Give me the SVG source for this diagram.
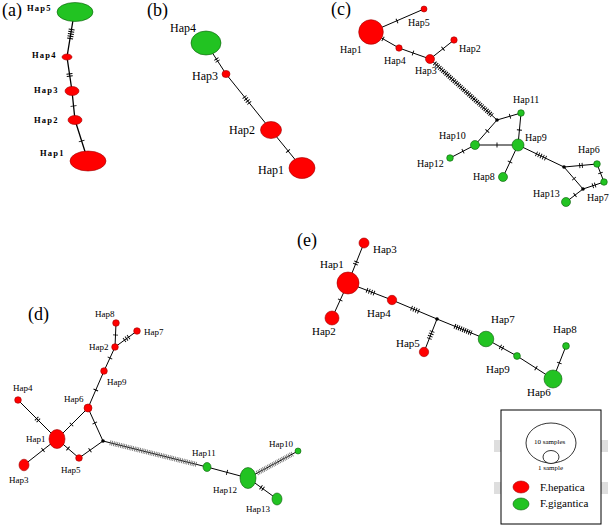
<svg xmlns="http://www.w3.org/2000/svg" width="610" height="526" viewBox="0 0 610 526">
<style>
text{font-family:"Liberation Serif","Times New Roman",serif;fill:#000}
.pl{font-size:18px}
.la{font-size:8.5px;font-weight:bold;letter-spacing:1.2px}
.lb{font-size:12px}
.lc{font-size:10px}
.ld{font-size:9px}
.le{font-size:11px}
.e{stroke:#000;stroke-width:1;fill:none}
.h{stroke:#000;stroke-width:5;stroke-dasharray:0.9 1.6;fill:none}
.ha{stroke:#000;stroke-width:6;stroke-dasharray:0.9 1.4;fill:none}
.hd{stroke:#000;stroke-width:5;stroke-dasharray:1 1.2;fill:none}
.hg{stroke:#666;stroke-width:5;stroke-dasharray:0.8 1;fill:none}
.r{fill:#ff0000;stroke:#a00000;stroke-width:0.6}
.g{fill:#22c322;stroke:#0a5a0a;stroke-width:0.6}
.b{fill:#000}
</style>
<rect width="610" height="526" fill="#fff"/>

<!-- panel labels -->
<text class="pl" x="2" y="16">(a)</text>
<text class="pl" x="147" y="16">(b)</text>
<text class="pl" x="331" y="15">(c)</text>
<text class="pl" x="28" y="320">(d)</text>
<text class="pl" x="297" y="246">(e)</text>

<g id="connectors">
  <!-- (a) -->
  <polyline class="e" style="stroke-width:1.3" points="74,14 67,57 72,91 75,120 88,161"/>
  <line class="ha" x1="71.7" y1="29" x2="70" y2="39"/>
  <line class="ha" x1="69.4" y1="73.4" x2="69.8" y2="76.6"/>
  <line class="ha" x1="73.5" y1="105.55" x2="73.6" y2="106.45"/>
  <line class="ha" x1="81.52" y1="140.57" x2="81.8" y2="141.43"/>
  <!-- (b) -->
  <polyline class="e" points="206,43 226,74 271,130 302,168"/>
  <line class="h" x1="216.13" y1="58.66" x2="217.87" y2="61.34"/>
  <line class="h" x1="244.27" y1="96.72" x2="249.53" y2="103.28"/>
  <line class="h" x1="287.72" y1="150.65" x2="288.28" y2="151.35"/>
  <!-- (c) -->
  <line class="e" x1="371" y1="32" x2="424" y2="9"/>
  <polyline class="e" points="371,32 399,48 430,59 454,40"/>
  <line class="e" x1="430" y1="59" x2="497" y2="120"/>
  <polyline class="e" points="475,145 497,120 521,113 518,145 475,145 450,158"/>
  <line class="e" x1="518" y1="145" x2="503" y2="177"/>
  <line class="e" x1="518" y1="145" x2="564" y2="167"/>
  <polyline class="e" points="566,202 583,189 564,167 597,164 604,182 583,189"/>
  <line class="h" x1="396.59" y1="21.18" x2="397.41" y2="20.82"/>
  <line class="h" x1="382.61" y1="38.68" x2="383.39" y2="39.12"/>
  <line class="h" x1="412.58" y1="52.85" x2="413.42" y2="53.15"/>
  <line class="h" x1="442.65" y1="48.98" x2="443.35" y2="48.42"/>
  <line class="hd" x1="434.5" y1="63.1" x2="492" y2="115.4"/>
  <line class="h" x1="509.57" y1="116.33" x2="510.43" y2="116.07"/>
  <line class="h" x1="519.44" y1="129.55" x2="519.36" y2="130.45"/>
  <line class="h" x1="487.6" y1="130.66" x2="487.0" y2="131.34"/>
  <line class="h" x1="496.55" y1="145" x2="497.45" y2="145"/>
  <line class="h" x1="463.4" y1="150.99" x2="462.6" y2="151.41"/>
  <line class="h" x1="510.19" y1="161.59" x2="509.81" y2="162.41"/>
  <line class="h" x1="536.08" y1="153.65" x2="545.92" y2="158.35"/>
  <line class="h" x1="579.3" y1="165.65" x2="582.7" y2="165.35"/>
  <line class="h" x1="600.34" y1="172.58" x2="600.66" y2="173.42"/>
  <line class="h" x1="595.61" y1="184.76" x2="592.39" y2="185.84"/>
  <line class="h" x1="573.71" y1="178.26" x2="574.29" y2="178.94"/>
  <line class="h" x1="575.36" y1="194.83" x2="574.64" y2="195.37"/>
  <!-- (d) -->
  <polyline class="e" points="116,323 115,347 104,371 88,408 57,439"/>
  <line class="e" x1="115" y1="347" x2="137" y2="331"/>
  <line class="e" x1="18" y1="400" x2="57" y2="439"/>
  <line class="e" x1="57" y1="439" x2="24" y2="465"/>
  <polyline class="e" points="57,439 79,458 103,441 88,408"/>
  <polyline class="e" points="103,441 207,467 248,478 298,451"/>
  <line class="e" x1="248" y1="478" x2="277" y2="499"/>
  <line class="h" x1="115.52" y1="334.55" x2="115.48" y2="335.45"/>
  <line class="h" x1="124.11" y1="340.33" x2="128.89" y2="336.87"/>
  <line class="h" x1="110.15" y1="357.59" x2="109.77" y2="358.41"/>
  <line class="h" x1="95.98" y1="389.59" x2="95.62" y2="390.41"/>
  <line class="h" x1="36.3" y1="418.3" x2="38.7" y2="420.7"/>
  <line class="h" x1="71.18" y1="424.82" x2="71.82" y2="424.18"/>
  <line class="h" x1="43.35" y1="449.72" x2="42.65" y2="450.28"/>
  <line class="h" x1="67.66" y1="448.21" x2="68.34" y2="448.79"/>
  <line class="h" x1="89.63" y1="450.46" x2="90.37" y2="449.94"/>
  <line class="h" x1="94.61" y1="422.59" x2="94.99" y2="423.41"/>
  <line class="hg" x1="110" y1="442.75" x2="197" y2="464.5"/>
  <line class="h" x1="226.57" y1="472.28" x2="227.43" y2="472.52"/>
  <line class="hg" x1="257" y1="473.1" x2="293" y2="453.7"/>
  <line class="h" x1="260.62" y1="487.1" x2="263.38" y2="489.1"/>
  <!-- (e) -->
  <polyline class="e" points="364,243 348,283 332,318"/>
  <polyline class="e" points="348,283 392,300 437,319 486,339 517,356 553,379 566,346"/>
  <line class="e" x1="437" y1="319" x2="424" y2="352"/>
  <line class="h" x1="356.63" y1="261.42" x2="355.37" y2="264.58"/>
  <line class="h" x1="340.39" y1="299.59" x2="340.01" y2="300.41"/>
  <line class="h" x1="366.58" y1="290.19" x2="374.42" y2="293.21"/>
  <line class="h" x1="411.13" y1="308.07" x2="418.87" y2="311.33"/>
  <line class="h" x1="432.24" y1="331.09" x2="429.16" y2="338.91"/>
  <line class="hd" x1="454.48" y1="326.12" x2="471.52" y2="333.08"/>
  <line class="h" x1="500.01" y1="346.68" x2="502.99" y2="348.32"/>
  <line class="h" x1="535.62" y1="367.86" x2="536.38" y2="368.34"/>
  <line class="h" x1="559.14" y1="363.42" x2="559.46" y2="362.58"/>
</g>

<!-- (a) nodes -->
<g id="a-hap5"><ellipse class="g" cx="75" cy="12" rx="18" ry="9.5"/><text class="la" x="27" y="10.5">Hap5</text></g>
<g id="a-hap4"><ellipse class="r" cx="67" cy="57" rx="5" ry="3"/><text class="la" x="32" y="58">Hap4</text></g>
<g id="a-hap3"><ellipse class="r" cx="72" cy="91" rx="7" ry="4.5"/><text class="la" x="34" y="93">Hap3</text></g>
<g id="a-hap2"><ellipse class="r" cx="75" cy="120" rx="7" ry="4.5"/><text class="la" x="34" y="122.5">Hap2</text></g>
<g id="a-hap1"><ellipse class="r" cx="88" cy="161" rx="18" ry="10"/><text class="la" x="40" y="155.5">Hap1</text></g>

<!-- (b) nodes -->
<g id="b-hap4"><ellipse class="g" cx="206" cy="43" rx="15" ry="12"/><text class="lb" x="170" y="31.5">Hap4</text></g>
<g id="b-hap3"><ellipse class="r" cx="226" cy="74" rx="4" ry="3.6"/><text class="lb" x="192" y="79.5">Hap3</text></g>
<g id="b-hap2"><ellipse class="r" cx="271" cy="130" rx="10.5" ry="8.5"/><text class="lb" x="229" y="133.5">Hap2</text></g>
<g id="b-hap1"><ellipse class="r" cx="302" cy="168" rx="13" ry="10.5"/><text class="lb" x="258" y="173.5">Hap1</text></g>

<!-- (c) nodes -->
<g id="c-hap1"><circle class="r" cx="371" cy="32" r="12.3"/><text class="lc" x="340" y="53">Hap1</text></g>
<g id="c-hap5"><circle class="r" cx="424" cy="9" r="3"/><text class="lc" x="408" y="26">Hap5</text></g>
<g id="c-hap4"><circle class="r" cx="399" cy="48" r="3.2"/><text class="lc" x="384" y="64">Hap4</text></g>
<g id="c-hap3"><circle class="r" cx="430" cy="59" r="4.5"/><text class="lc" x="415" y="74">Hap3</text></g>
<g id="c-hap2"><circle class="r" cx="454" cy="40" r="3.2"/><text class="lc" x="459" y="52">Hap2</text></g>
<g id="c-b1"><circle class="b" cx="497" cy="120" r="1.8"/></g>
<g id="c-hap11"><circle class="g" cx="521" cy="113" r="3.3"/><text class="lc" x="513" y="103">Hap11</text></g>
<g id="c-hap9"><circle class="g" cx="518" cy="145" r="6"/><text class="lc" x="525" y="141">Hap9</text></g>
<g id="c-hap10"><circle class="g" cx="475" cy="145" r="4.5"/><text class="lc" x="439" y="139">Hap10</text></g>
<g id="c-hap12"><circle class="g" cx="450" cy="158" r="3.3"/><text class="lc" x="417" y="167">Hap12</text></g>
<g id="c-hap8"><circle class="g" cx="503" cy="177" r="4.5"/><text class="lc" x="473" y="180">Hap8</text></g>
<g id="c-b2"><circle class="b" cx="564" cy="167" r="1.8"/></g>
<g id="c-hap6"><circle class="g" cx="597" cy="164" r="3.3"/><text class="lc" x="578" y="153">Hap6</text></g>
<g id="c-hap7"><circle class="g" cx="604" cy="182" r="3.3"/><text class="lc" x="587" y="201">Hap7</text></g>
<g id="c-b3"><circle class="b" cx="583" cy="189" r="1.8"/></g>
<g id="c-hap13"><circle class="g" cx="566" cy="202" r="4.5"/><text class="lc" x="533" y="197">Hap13</text></g>

<!-- (d) nodes -->
<g id="d-hap8"><circle class="r" cx="116" cy="323" r="3.3"/><text class="ld" x="95" y="317">Hap8</text></g>
<g id="d-hap7"><circle class="r" cx="137" cy="331" r="3.3"/><text class="ld" x="144" y="335">Hap7</text></g>
<g id="d-hap2"><circle class="r" cx="115" cy="347" r="3.3"/><text class="ld" x="89" y="350">Hap2</text></g>
<g id="d-hap9"><circle class="r" cx="104" cy="371" r="3.3"/><text class="ld" x="107" y="385">Hap9</text></g>
<g id="d-hap6"><circle class="r" cx="88" cy="408" r="4"/><text class="ld" x="64" y="402">Hap6</text></g>
<g id="d-hap4"><circle class="r" cx="18" cy="400" r="3.3"/><text class="ld" x="13" y="391">Hap4</text></g>
<g id="d-hap1"><ellipse class="r" cx="57" cy="439" rx="8" ry="9.5"/><text class="ld" x="26" y="442">Hap1</text></g>
<g id="d-hap3"><ellipse class="r" cx="24" cy="465" rx="5" ry="5.8"/><text class="ld" x="9" y="483">Hap3</text></g>
<g id="d-hap5"><circle class="r" cx="79" cy="458" r="3.3"/><text class="ld" x="61" y="473">Hap5</text></g>
<g id="d-b1"><circle class="b" cx="103" cy="441" r="1.8"/></g>
<g id="d-hap11"><ellipse class="g" cx="207" cy="467" rx="4" ry="4.5"/><text class="ld" x="192" y="456">Hap11</text></g>
<g id="d-hap12"><ellipse class="g" cx="248" cy="478" rx="8" ry="10.5"/><text class="ld" x="213" y="493">Hap12</text></g>
<g id="d-hap10"><circle class="g" cx="298" cy="451" r="3"/><text class="ld" x="269" y="447">Hap10</text></g>
<g id="d-hap13"><ellipse class="g" cx="277" cy="499" rx="5" ry="6"/><text class="ld" x="246" y="512">Hap13</text></g>

<!-- (e) nodes -->
<g id="e-hap3"><circle class="r" cx="364" cy="243" r="5"/><text class="le" x="373" y="253">Hap3</text></g>
<g id="e-hap1"><circle class="r" cx="348" cy="283" r="11"/><text class="le" x="320" y="268">Hap1</text></g>
<g id="e-hap2"><circle class="r" cx="332" cy="318" r="7"/><text class="le" x="312" y="335">Hap2</text></g>
<g id="e-hap4"><circle class="r" cx="392" cy="300" r="4.7"/><text class="le" x="367" y="317">Hap4</text></g>
<g id="e-b1"><circle class="b" cx="437" cy="319" r="1.8"/></g>
<g id="e-hap5"><circle class="r" cx="424" cy="352" r="4.7"/><text class="le" x="396" y="347">Hap5</text></g>
<g id="e-hap7"><circle class="g" cx="486" cy="339" r="7.8"/><text class="le" x="491" y="323">Hap7</text></g>
<g id="e-hap9"><circle class="g" cx="517" cy="356" r="3.4"/><text class="le" x="486" y="373">Hap9</text></g>
<g id="e-hap6"><circle class="g" cx="553" cy="379" r="9"/><text class="le" x="527" y="396">Hap6</text></g>
<g id="e-hap8"><circle class="g" cx="566" cy="346" r="3.4"/><text class="le" x="553" y="333">Hap8</text></g>

<!-- legend -->
<g id="legend">
  <rect x="494" y="440" width="7" height="12" fill="#dedede"/>
  <rect x="494" y="482" width="7" height="12" fill="#dedede"/>
  <rect x="601" y="440" width="7" height="12" fill="#dedede"/>
  <rect x="601" y="482" width="7" height="12" fill="#dedede"/>
  <rect x="501" y="410" width="100" height="114" fill="#fff" stroke="#000" stroke-width="1"/>
  <ellipse cx="551" cy="443" rx="25" ry="20" fill="none" stroke="#000" stroke-width="0.8"/>
  <ellipse cx="551" cy="457" rx="8" ry="6.5" fill="#fff" stroke="#000" stroke-width="0.8"/>
  <text x="534" y="444" style="font-size:7px">10 samples</text>
  <text x="538" y="470" style="font-size:7px">1 sample</text>
  <ellipse class="r" cx="521" cy="487" rx="8" ry="6"/>
  <text x="540" y="491" style="font-size:11px">F.hepatica</text>
  <ellipse class="g" cx="521" cy="504" rx="8" ry="6"/>
  <text x="540" y="507" style="font-size:11px">F.gigantica</text>
</g>
</svg>
